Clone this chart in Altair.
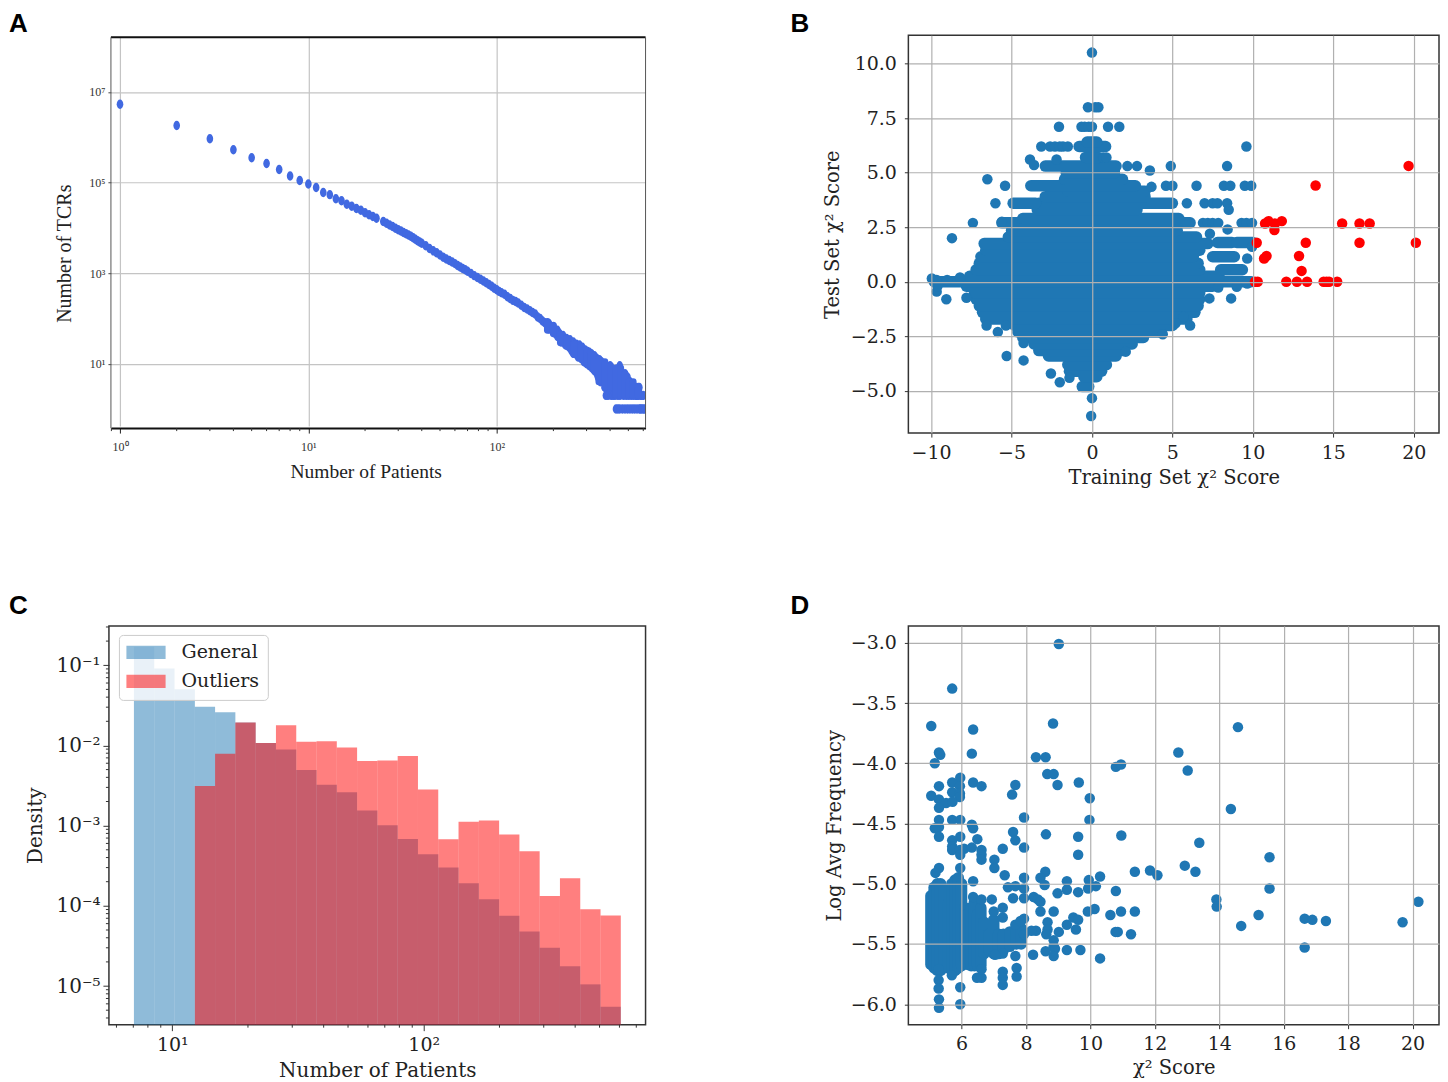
import altair as alt
import pandas as pd

SERIF = "DejaVu Serif"
TIMES = "Liberation Serif"
BLUE = "#1f77b4"
ROYAL = "#4169e1"
GRID = "#b0b0b0"
FRAME = "#333333"

# ---------- Panel A ----------
a_patients = [1,2,3,4,5,6,7,8,9,10,11,12,13,14,15,16,17,18,19,20,21,22,23,
 25,26,27,28,29,30,31,32,33,34,35,36,37,38,39,40,42,44,46,48,50,52,54,56,58,60,62,64,66,68,70,73,76,79,82,85,88,91,94,97,100,
 103,106,110,114,118,122,126,130,135,140,145,150,155,160,165,170,175,180,185,
 190,190,195,200,200,205,210,210,215,220,220,225,230,230,235,240,240,245,245,250,250,255,255,260,265,265,270,270,275,280,280,285,290,290,295,300,300,
 305,310,310,315,320,320,325,330,330,335,340,340,345,345,350,355,355,360,365,365,370,375,375,380,380,385,390,390,395,395,400,405,405,410,415,415,420,425,425,
 430,430,435,440,440,440,445,450,450,450,452,458,465,465,472,472,480,480,488,488,495,495,503,503,510,510,518,518,525,525,533,533,540,540,548,548,556,556,564,564,572,572,580,580,590,590,600,600,612]
a_tcrs = [5340000,1810000,920000,530000,350000,262000,194000,140000,111000,93000,77600,60000,54000,43700,39400,33000,30000,26700,24500,21400,19500,17800,16200,
 13800,12600,11600,10700,9800,9100,8500,7900,7400,6900,6500,6000,5600,5200,4850,4550,4000,3500,3100,2800,2500,2250,2050,1900,1750,1620,1480,1360,1270,1180,1100,980,880,800,730,670,610,560,510,465,430,
 395,370,340,300,275,250,235,220,195,175,162,148,135,125,108,100,88,80,72,
 75,58,62,52,66,46,55,40,47,37,30,42,33,27,36,30,24,34,22,27,19,30,17,24,27,16,20,14,26,18,13,23,15,11,20,17,10,
 13,18,9,11,16,8,13,15,7,10,6,13,5,10,12,8,4,11,6,4,9,7,3,5,2,8,4,2,6,3,9,5,2,7,3,2,6,4,2,
 7,1,3,5,2,1,8,9,4,1,2,6,5,1,4,2,6,1,3,2,5,1,4,2,4,1,3,2,3,1,3,2,3,1,3,2,2,1,3,2,3,1,2,1,2,1,2,1,1]
a_tail_n =  [186,200,218,235,257,280,300,315,330,349,375,402,430,455,480,503,530,566]
a_tail_lo = [55,46,29,24,16,13,10,9,7,4,3,3,2,2,2,2,2,2]
a_tail_hi = [85,70,45,36,28,24,20,18,15,13,11,9,8,8,6,4,4,3]
a_xtick = [1, 10, 100]
a_ytick = [10, 1000, 100000, 10000000]
a_xminor = [0.9,2,3,4,5,6,7,8,9,20,30,40,50,60,70,80,90,200,300,400,500,600]

# ---------- Panel B ----------
b_row_y =  [-4.8,-4.35,-4.1,-3.8,-3.4,-3.15,-2.85,-2.55,-2.3,-2.0,-1.7,-1.4,-1.1,-0.8,-0.5,-0.2,0.0,0.25,0.55,0.85,1.15,1.45,1.75,2.05,2.35,2.7,2.9,3.3,3.6,3.6,3.9,4.15,4.4,4.7,5.0,5.3,5.7,6.2,6.4,1.8,1.8,1.15,0.55]
b_row_lo = [-0.6,-0.5,-1.4,-1.5,-2.7,-3.3,-3.6,-4.3,-4.6,-4.8,-6.6,-6.8,-7.0,-7.2,-7.3,-7.8,-9.8,-7.6,-7.2,-7.0,-6.9,-6.6,-6.7,-5.2,-5.0,-5.6,-4.3,-3.4,-3.3,-4.9,-2.9,-1.5,-3.8,-1.7,-1.6,-2.9,-0.4,-0.8,-0.3,7.8,9.0,7.5,8.0]
b_row_hi = [-0.2,0.3,0.6,0.9,1.5,2.0,2.5,3.2,4.3,5.0,5.9,6.4,6.6,6.7,6.7,7.5,9.9,7.9,6.7,6.6,6.3,6.7,7.2,6.5,5.3,6.1,5.4,2.8,5.0,-3.5,3.3,3.3,2.7,1.9,1.4,1.5,0.4,0.85,0.3,8.7,10.0,8.85,9.35]
b_dot_x = [0,-0.25,0.2,0.4,-2.05,-0.65,-0.45,-0.2,0,1.0,1.7,-3.15,-2.6,-2.3,-2.0,-1.8,-1.5,9.6,-3.85,-3.6,-2.2,0.7,0.9,2.2,2.8,4.9,8.4,3.6,-5.4,3.7,4.6,5.0,6.5,8.2,8.6,9.5,9.9,5.9,7.0,7.5,7.8,8.4,8.5,6.9,7.2,7.5,7.85,9.3,9.6,9.95,
 8.43,7.33,9.65,9.95,7.85,9.0,9.65,7.3,8.65,6.1,5.7,5.2,4.4,2.1,-9.95,-9.65,-9.0,-8.2,-9.65,-9.6,-9.05,-7.8,-8.7,-7.4,-6.5,-6.0,-5.6,-6.55,-5.85,-5.35,-5.3,-4.25,-2.55,-2.0,-1.4,-4.25,-0.05,0.0]
b_dot_y = [10.5,8.0,8.0,8.0,7.1,7.1,7.1,7.1,7.1,7.1,7.1,6.2,6.2,6.2,6.2,6.2,6.2,6.2,5.6,5.35,5.6,5.7,5.7,5.3,5.3,5.3,5.3,5.1,4.4,4.35,4.4,4.4,4.4,4.4,4.4,4.4,4.4,3.6,3.6,3.6,3.6,3.6,3.3,2.7,2.7,2.7,2.7,2.7,2.7,2.7,
 2.4,2.2,1.07,1.6,-0.26,-0.23,-0.08,-0.76,-0.76,-2.0,-1.6,-1.9,-2.4,-3.2,0.15,0.08,0.08,0.2,-0.45,-0.2,-0.8,-0.73,2.0,2.7,4.7,3.6,2.75,-2.0,-2.3,-2.0,-3.4,-3.6,-4.2,-4.6,-4.4,-2.8,-6.15,-5.33]
b_out_x = [10.24,10.13,10.3,10.7,10.85,10.76,10.97,11.37,11.8,11.34,12.08,12.74,12.87,13.03,13.37,13.29,13.9,14.4,14.58,14.74,15.24,15.55,16.63,16.63,17.26,19.68,20.13]
b_out_y = [1.79,0,0,1.07,1.18,2.67,2.78,2.67,2.78,2.37,0,0,1.18,0.5,0,1.79,4.41,0,0,0,0,2.67,1.79,2.67,2.67,5.31,1.79]
b_xtick = [-10,-5,0,5,10,15,20]
b_ytick = [-5,-2.5,0,2.5,5,7.5,10]

# ---------- Panel C ----------
c_lo = [7.04,8.48,10.21,12.30,14.80,17.82,21.46,25.84,31.12,37.47,45.11,54.32,65.41,78.76,94.84,114.2,137.5,165.6,199.4,240.1,289.0,348.0,419.1,504.6]
c_hi = [8.48,10.21,12.30,14.80,17.82,21.46,25.84,31.12,37.47,45.11,54.32,65.41,78.76,94.84,114.2,137.5,165.6,199.4,240.1,289.0,348.0,419.1,504.6,607.5]
c_general = [0.17,.0910,.0502,.0303,.0260,.0193,.0107,.00891,.00493,.00324,.00260,.00154,.00101,.000682,.000440,.000300,.000191,.000121,.0000752,.0000479,.0000300,.0000177,.0000105,.00000553]
c_outliers = [.00312,.00787,.0193,.0107,.0179,.0111,.0113,.00944,.00638,.00650,.00736,.00283,.000676,.00112,.00116,.000773,.000479,.000133,.000221,.0000910,.0000759]
c_xtick = [10, 100]
c_ytick = [1e-5,1e-4,1e-3,1e-2,1e-1]
c_xminor = [6,7,8,9,20,30,40,50,60,70,80,90,200,300,400,500,600,700]
c_yminor = [4e-6,5e-6,6e-6,7e-6,8e-6,9e-6,2e-5,3e-5,4e-5,5e-5,6e-5,7e-5,8e-5,9e-5,2e-4,3e-4,4e-4,5e-4,6e-4,7e-4,8e-4,9e-4,2e-3,3e-3,4e-3,5e-3,6e-3,7e-3,8e-3,9e-3,2e-2,3e-2,4e-2,5e-2,6e-2,7e-2,8e-2,9e-2,2e-1,3e-1]

# ---------- Panel D ----------
d_col_x =  [5.05,5.15,5.25,5.35,5.45,5.6,5.7,5.8,5.9,6.0,6.1,6.2,6.3,6.4,6.5,6.6,6.7,6.85,7.0,7.15,7.3,7.5,7.7,7.85]
d_col_lo = [-5.67,-5.7,-5.72,-5.72,-5.68,-5.7,-5.72,-5.72,-5.7,-5.68,-5.62,-5.67,-5.68,-5.68,-5.68,-5.68,-5.58,-5.55,-5.58,-5.58,-5.55,-5.52,-5.5,-5.5]
d_col_hi = [-5.1,-5.03,-5.0,-5.0,-5.05,-5.15,-5.0,-4.97,-4.95,-5.0,-5.2,-5.25,-5.2,-5.15,-5.25,-5.2,-5.32,-5.42,-5.3,-5.42,-5.42,-5.4,-5.37,-5.37]
d_dots = [(9.02,-3.01),(5.71,-3.38),(5.06,-3.69),(6.36,-3.72),(8.84,-3.67),(14.58,-3.70),(12.73,-3.91),(5.3,-3.91),(5.34,-3.93),(6.32,-3.92),
 (8.31,-3.95),(8.61,-3.95),(5.17,-4.0),(10.79,-4.03),(10.95,-4.01),(13.02,-4.06),(8.66,-4.09),(8.86,-4.09),(5.96,-4.12),(5.71,-4.16),(6.36,-4.16),
 (8.98,-4.18),(9.64,-4.16),(6.62,-4.19),(5.3,-4.19),(7.67,-4.18),(5.95,-4.19),(5.71,-4.24),(5.95,-4.25),(5.06,-4.27),(7.57,-4.26),(5.95,-4.28),
 (9.98,-4.29),(5.3,-4.3),(5.52,-4.33),(5.72,-4.32),(5.3,-4.37),(14.36,-4.38),(5.71,-4.47),(5.96,-4.47),(5.3,-4.47),(9.97,-4.47),(7.94,-4.45),
 (6.32,-4.51),(6.36,-4.54),(5.3,-4.53),(5.17,-4.54),(7.6,-4.57),(7.67,-4.64),(8.62,-4.59),(9.62,-4.61),(10.96,-4.6),(5.3,-4.61),(5.96,-4.61),
 (6.49,-4.63),(5.71,-4.64),(5.71,-4.69),(5.71,-4.72),(13.38,-4.66),(5.95,-4.72),(6.08,-4.71),(6.32,-4.7),(7.94,-4.7),(7.28,-4.71),(6.62,-4.72),
 (6.62,-4.76),(6.62,-4.8),(5.96,-4.76),(9.62,-4.76),(7.02,-4.8),(7.02,-4.87),(15.56,-4.78),(12.93,-4.85),(5.3,-4.87),(5.19,-4.91),(5.96,-4.87),
 (11.38,-4.9),(11.85,-4.89),(13.26,-4.9),(12.08,-4.93),(8.6,-4.9),(7.34,-4.93),(8.45,-4.95),(10.3,-4.94),(7.94,-4.95),(9.95,-4.97),(9.27,-4.98),
 (6.36,-4.98),(8.58,-5.01),(10.17,-5.02),(9.93,-5.04),(9.27,-5.05),(9.62,-5.07),(7.44,-5.03),(7.67,-5.02),(7.94,-5.04),(15.56,-5.04),(10.79,-5.06),
 (8.98,-5.08),(7.6,-5.12),(7.94,-5.12),(8.24,-5.11),(8.37,-5.13),(8.45,-5.15),(6.94,-5.13),(6.36,-5.11),(6.62,-5.13),(13.91,-5.13),(13.92,-5.19),
 (20.18,-5.15),(10.13,-5.21),(9.92,-5.23),(7.28,-5.2),(10.95,-5.23),(11.38,-5.23),(8.45,-5.23),(8.86,-5.23),(7.0,-5.23),(10.62,-5.26),(15.22,-5.26),
 (7.28,-5.28),(9.47,-5.28),(9.62,-5.3),(9.27,-5.34),(7.94,-5.29),(16.65,-5.29),(16.89,-5.3),(17.31,-5.31),(19.69,-5.32),(8.67,-5.32),(7.67,-5.34),
 (7.83,-5.31),(14.68,-5.35),(9.55,-5.38),(9.02,-5.4),(10.78,-5.4),(10.85,-5.4),(11.26,-5.42),(8.31,-5.39),(8.17,-5.39),(8.67,-5.38),(8.63,-5.42),
 (7.94,-5.42),(8.86,-5.47),(16.65,-5.53),(8.86,-5.52),(8.9,-5.54),(8.61,-5.56),(9.27,-5.55),(9.69,-5.55),(8.22,-5.59),(8.86,-5.6),(7.67,-5.6),
 (10.3,-5.62),(7.28,-5.58),(7.04,-5.59),(7.71,-5.7),(7.71,-5.77),(7.28,-5.73),(7.28,-5.78),(7.28,-5.84),(6.62,-5.78),(6.48,-5.78),(6.62,-5.71),
 (5.7,-5.76),(5.96,-5.86),(5.29,-5.71),(5.29,-5.8),(5.29,-5.87),(5.3,-5.96),(5.3,-6.03),(5.96,-6.0)]
d_xtick = [6,8,10,12,14,16,18,20]
d_ytick = [-6,-5.5,-5,-4.5,-4,-3.5,-3]

MINUS1 = "replace(format(datum.value,'.1f'),'-','−')"
MINUS0 = "replace(format(datum.value,'d'),'-','−')"
SUP = "{'0':'⁰','1':'¹','2':'²','3':'³','5':'⁵','7':'⁷'}"
DOT = 110
RUN = 11.5


def letter(txt, x, y):
    return alt.Chart(pd.DataFrame({"t": [txt]})).mark_text(
        font="Liberation Sans", fontWeight="bold", fontSize=26, color="black",
        align="left", baseline="top", clip=False
    ).encode(x=alt.value(x), y=alt.value(y), text="t:N")


def serif_axis(title, values, expr, **kw):
    opts = dict(title=title, values=values, labelExpr=expr, grid=True, gridColor=GRID, gridWidth=1.2,
                tickColor=FRAME, tickSize=4, domain=False, labelFont=SERIF, labelFontSize=19,
                labelColor="#222222", titleFont=SERIF, titleFontSize=19.5, titleFontWeight="normal",
                titleColor="#222222", zindex=1, labelPadding=3, labelOverlap=False)
    opts.update(kw)
    return alt.Axis(**opts)


# ---------- A ----------
ax_scale = alt.Scale(type="log", domain=[0.895, 617], range=[2, 537], nice=False)
ay_scale = alt.Scale(type="log", domain=[0.42, 160000000], range=[391, 2], nice=False)
A_W, A_H = 537, 393
a_x_axis = alt.Axis(
    title="Number of Patients", values=a_xtick,
    labelExpr="'10' + " + SUP + "[round(log(datum.value)/LN10)]",
    grid=True, gridColor="#c4c4c4", gridWidth=1.2, tickColor="#222222", tickSize=5,
    domainColor="#111111", domainWidth=2, labelFont=TIMES, labelFontSize=12, labelColor="#333333",
    titleFont=TIMES, titleFontSize=19.5, titleFontWeight="normal", titleColor="#222222",
    titleX=257, titlePadding=10, labelPadding=8)
a_y_axis = alt.Axis(
    title="Number of TCRs", values=a_ytick,
    labelExpr="'10' + " + SUP + "[round(log(datum.value)/LN10)]",
    grid=True, gridColor="#c4c4c4", gridWidth=1.2, tickColor="#444444", tickSize=3,
    domain=False, labelFont=TIMES, labelFontSize=12, labelColor="#333333",
    titleFont=TIMES, titleFontSize=20, titleFontWeight="normal", titleColor="#222222",
    titleY=218, titlePadding=14, labelPadding=3, offset=-2)
a_df = pd.DataFrame({"n": a_patients, "c": a_tcrs})
a_points = alt.Chart(a_df).mark_point(
    filled=True, color=ROYAL, opacity=1, size=90, clip=True,
    shape="M-0.7,0A0.7,1 0 1,1 0.7,0A0.7,1 0 1,1 -0.7,0Z"
).encode(x=alt.X("n:Q", scale=ax_scale, axis=a_x_axis), y=alt.Y("c:Q", scale=ay_scale, axis=a_y_axis))
a_tail = alt.Chart(pd.DataFrame({"n": a_tail_n, "lo": a_tail_lo, "hi": a_tail_hi})).mark_rule(
    color=ROYAL, strokeWidth=7, strokeCap="round", clip=True).encode(
    x=alt.X("n:Q", scale=ax_scale, axis=a_x_axis), y=alt.Y("lo:Q", scale=ay_scale, axis=a_y_axis), y2="hi:Q")
a_minor = alt.Chart(pd.DataFrame({"m": a_xminor})).mark_rule(color="#333333", strokeWidth=1).encode(
    x=alt.X("m:Q", scale=ax_scale, axis=a_x_axis), y=alt.value(A_H), y2=alt.value(A_H + 3))
frame_df = pd.DataFrame({"i": [0]})
a_top = alt.Chart(frame_df).mark_rule(color="#111111", strokeWidth=2).encode(x=alt.value(2), x2=alt.value(537), y=alt.value(2))
a_left = alt.Chart(frame_df).mark_rule(color="#555555", strokeWidth=1).encode(x=alt.value(2), y=alt.value(2), y2=alt.value(A_H))
a_right = alt.Chart(frame_df).mark_rule(color="#555555", strokeWidth=1).encode(x=alt.value(537), y=alt.value(2), y2=alt.value(A_H))
panel_a = alt.layer(a_points, a_tail, a_minor, a_top, a_left, a_right, letter("A", -100, -24)).properties(
    width=A_W, height=A_H, view=alt.ViewBackground(stroke=None))

# ---------- B ----------
bx_scale = alt.Scale(domain=[-11.41, 21.57], nice=False, zero=False)
by_scale = alt.Scale(domain=[-6.93, 11.29], nice=False, zero=False)
b_x_axis = serif_axis("Training Set χ² Score", b_xtick, MINUS0, labelPadding=6, titlePadding=6)
b_y_axis = serif_axis("Test Set χ² Score", b_ytick, MINUS1, labelPadding=8, titlePadding=8)
b_rows = alt.Chart(pd.DataFrame({"y": b_row_y, "lo": b_row_lo, "hi": b_row_hi})).mark_rule(
    color=BLUE, strokeWidth=RUN, strokeCap="round").encode(
    x=alt.X("lo:Q", scale=bx_scale, axis=b_x_axis), x2="hi:Q", y=alt.Y("y:Q", scale=by_scale, axis=b_y_axis))
b_dots = alt.Chart(pd.DataFrame({"x": b_dot_x, "y": b_dot_y})).mark_circle(color=BLUE, size=DOT, opacity=1).encode(
    x=alt.X("x:Q", scale=bx_scale, axis=b_x_axis), y=alt.Y("y:Q", scale=by_scale, axis=b_y_axis))
b_out = alt.Chart(pd.DataFrame({"x": b_out_x, "y": b_out_y})).mark_circle(color="#ff0000", size=DOT, opacity=1).encode(
    x=alt.X("x:Q", scale=bx_scale, axis=b_x_axis), y=alt.Y("y:Q", scale=by_scale, axis=b_y_axis))
panel_b = alt.layer(b_rows, b_dots, b_out, letter("B", -118, -24)).properties(
    width=531, height=398, view=alt.ViewBackground(stroke=FRAME, strokeWidth=1.5))

# ---------- C ----------
cx_scale = alt.Scale(type="log", domain=[5.6, 762], nice=False)
cy_scale = alt.Scale(type="log", domain=[3.3e-6, 0.309], nice=False)
c_series = ["General"] * len(c_general) + ["Outliers"] * len(c_outliers)
c_df = pd.DataFrame({
    "lo": c_lo + c_lo[3:], "hi": c_hi + c_hi[3:], "v": c_general + c_outliers, "s": c_series})
SUPC = "{'-1':'⁻¹','-2':'⁻²','-3':'⁻³','-4':'⁻⁴','-5':'⁻⁵','1':'¹','2':'²'}"
c_axis_common = dict(grid=False, tickColor=FRAME, tickSize=6, domain=False, labelFont=SERIF,
                     labelColor="#222222", titleFont=SERIF, titleFontSize=20, titleFontWeight="normal",
                     titleColor="#222222", labelOverlap=False)
c_x_axis = alt.Axis(title="Number of Patients", values=c_xtick, labelFontSize=19,
                    labelExpr="'10' + " + SUPC + "[round(log(datum.value)/LN10)]", titlePadding=6, labelPadding=5, **c_axis_common)
c_y_axis = alt.Axis(title="Density", values=c_ytick, labelFontSize=20,
                    labelExpr="'10' + " + SUPC + "[round(log(datum.value)/LN10)]", titlePadding=10, labelPadding=3, **c_axis_common)
c_bars = alt.Chart(c_df).mark_rect(opacity=0.5).encode(
    x=alt.X("lo:Q", scale=cx_scale, axis=c_x_axis),
    x2="hi:Q",
    y=alt.Y("v:Q", scale=cy_scale, axis=c_y_axis),
    y2=alt.value(399),
    color=alt.Color("s:N", scale=alt.Scale(domain=["General", "Outliers"], range=[BLUE, "#ff0000"]), legend=alt.Legend(
        orient="none", legendX=10, legendY=9, title=None, fillColor="rgba(255,255,255,0.8)", strokeColor="#cccccc",
        cornerRadius=4, padding=8, labelFont=SERIF, labelFontSize=19, labelColor="#222222", labelOffset=26,
        symbolType="M-2.8,-0.95H2.8V0.95H-2.8Z", symbolSize=196, symbolOffset=9.6, symbolStrokeWidth=0,
        symbolOpacity=0.5, rowPadding=9)),
)
c_xm = alt.Chart(pd.DataFrame({"m": c_xminor})).mark_rule(color=FRAME, strokeWidth=1).encode(
    x=alt.X("m:Q", scale=cx_scale, axis=c_x_axis), y=alt.value(399), y2=alt.value(402))
c_ym = alt.Chart(pd.DataFrame({"m": c_yminor})).mark_rule(color=FRAME, strokeWidth=1).encode(
    y=alt.Y("m:Q", scale=cy_scale, axis=c_y_axis), x=alt.value(-3), x2=alt.value(0))
panel_c = alt.layer(c_bars, c_xm, c_ym, letter("C", -100, -33)).properties(
    width=537, height=399, view=alt.ViewBackground(stroke=FRAME, strokeWidth=1.5))

# ---------- D ----------
dx_scale = alt.Scale(domain=[4.35, 20.82], nice=False, zero=False)
dy_scale = alt.Scale(domain=[-6.17, -2.86], nice=False, zero=False)
d_x_axis = serif_axis("χ² Score", d_xtick, MINUS0, labelPadding=6, titlePadding=5)
d_y_axis = serif_axis("Log Avg Frequency", d_ytick, MINUS1, labelPadding=8, titlePadding=6)
d_cols_chart = alt.Chart(pd.DataFrame({"x": d_col_x, "lo": d_col_lo, "hi": d_col_hi})).mark_rule(
    color=BLUE, strokeWidth=RUN, strokeCap="round").encode(
    x=alt.X("x:Q", scale=dx_scale, axis=d_x_axis), y=alt.Y("lo:Q", scale=dy_scale, axis=d_y_axis), y2="hi:Q")
d_dots_chart = alt.Chart(pd.DataFrame(d_dots, columns=["x", "y"])).mark_circle(color=BLUE, size=DOT, opacity=1).encode(
    x=alt.X("x:Q", scale=dx_scale, axis=d_x_axis), y=alt.Y("y:Q", scale=dy_scale, axis=d_y_axis))
panel_d = alt.layer(d_cols_chart, d_dots_chart, letter("D", -118, -33)).properties(
    width=531, height=399, view=alt.ViewBackground(stroke=FRAME, strokeWidth=1.5))

chart = alt.concat(panel_a, panel_b, panel_c, panel_d, columns=2,
                   spacing=alt.RowColnumber(column=263, row=193),
                   bounds="flush", align="none").properties(
    padding={"left": 0, "right": 0, "top": 2, "bottom": 0}).resolve_scale(color="independent")
chart.save("out.html", embed_options={"renderer": "svg", "actions": False})
